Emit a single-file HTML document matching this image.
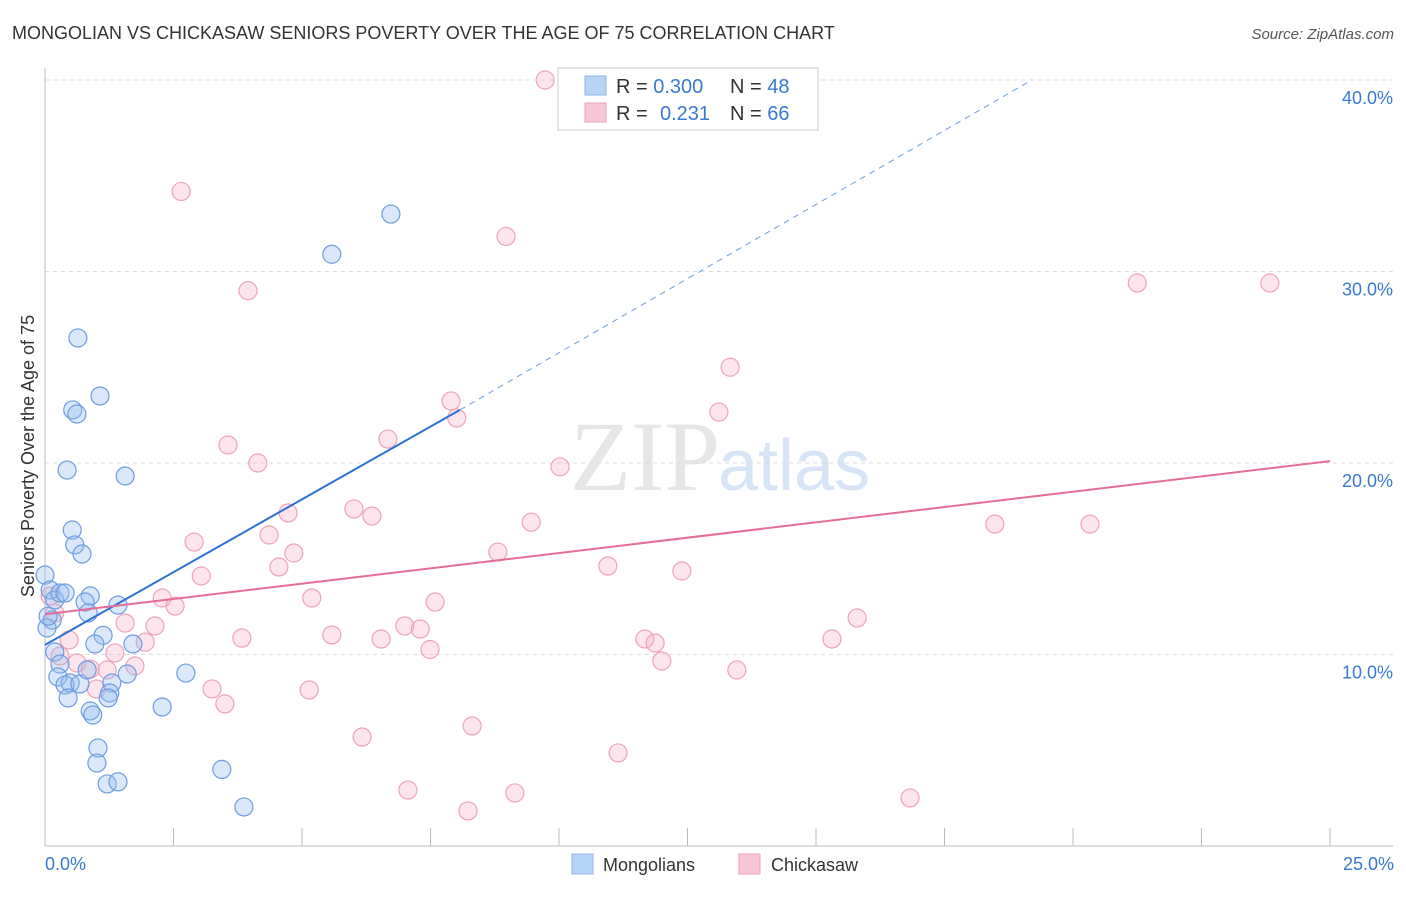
<!DOCTYPE html>
<html><head><meta charset="utf-8"><style>
body{margin:0;background:#fff;font-family:"Liberation Sans",sans-serif;}
</style></head><body>
<svg id="chart" width="1406" height="892" xmlns="http://www.w3.org/2000/svg">
<text x="12" y="39" font-size="18" fill="#333">MONGOLIAN VS CHICKASAW SENIORS POVERTY OVER THE AGE OF 75 CORRELATION CHART</text>
<text x="1394" y="39" font-size="15" fill="#555" font-style="italic" text-anchor="end">Source: ZipAtlas.com</text>
<text x="720" y="490" font-size="100" fill="#e6e6e6" text-anchor="end" font-family="Liberation Serif">ZIP</text>
<text x="718" y="490" font-size="72" fill="#d7e4f5">atlas</text>
<text transform="translate(34,456) rotate(-90)" font-size="18" fill="#333" text-anchor="middle">Seniors Poverty Over the Age of 75</text>
<g id="grid"></g><g id="pts"></g><g id="lines"></g>
<rect x="558" y="68" width="260" height="62" fill="#fff" stroke="#ccc"/>
<rect x="585" y="76" width="21" height="19" fill="#b7d3f5" stroke="#8fb5e8"/>
<rect x="585" y="103" width="21" height="19" fill="#f9c6d5" stroke="#eea3ba"/>
<text x="616" y="93" font-size="20" fill="#333">R = <tspan fill="#3a78d4">0.300</tspan><tspan x="730">N = </tspan><tspan fill="#3a78d4">48</tspan></text>
<text x="616" y="120" font-size="20" fill="#333">R = <tspan x="660" fill="#3a78d4">0.231</tspan><tspan x="730">N = </tspan><tspan fill="#3a78d4">66</tspan></text>
<text x="45" y="870" font-size="18" fill="#3a78d4">0.0%</text>
<text x="1394" y="870" font-size="18" fill="#3a78d4" text-anchor="end">25.0%</text>
<rect x="572" y="854" width="21" height="20" fill="#b7d3f5" stroke="#8fb5e8"/>
<text x="603" y="871" font-size="18" fill="#333">Mongolians</text>
<rect x="739" y="854" width="21" height="20" fill="#f9c6d5" stroke="#eea3ba"/>
<text x="771" y="871" font-size="18" fill="#333">Chickasaw</text>
</svg>
<script>
const yTicks=[10,20,30,40];
const xTicks=[0,2.5,5,7.5,10,12.5,15,17.5,20,22.5,25];
const blueX=[0,0.1,0.14,0.04,0.19,0.29,0.39,0.64,1.07,0.54,0.62,0.43,1.56,0.53,0.58,0.72,0.88,0.78,0.84,1.42,1.13,0.97,1.71,0.19,0.29,0.25,0.49,0.39,0.68,0.82,1.3,1.6,2.74,1.26,1.23,0.45,0.88,0.93,2.28,1.03,1.01,3.44,1.21,1.42,3.87,5.58,6.73,0.06];
const blueY=[14.15,13.37,11.8,11.39,12.85,13.21,13.21,26.53,23.5,22.77,22.56,19.63,19.32,16.5,15.72,15.25,13.06,12.74,12.17,12.58,11.0,10.55,10.55,10.13,9.5,8.83,8.51,8.41,8.46,9.19,8.51,8.98,9.03,7.99,7.73,7.73,7.05,6.84,7.26,5.12,4.33,4.0,3.24,3.35,2.04,30.9,33.0,12.0];
const pinkX=[9.73,2.65,8.97,3.95,21.25,23.83,13.33,13.11,7.9,8.01,6.67,3.56,4.14,10.02,6.01,6.36,4.73,9.46,18.48,20.33,4.36,2.9,4.84,8.81,10.95,12.39,4.55,3.04,2.28,2.53,5.19,7.59,1.56,2.14,7.0,7.3,5.58,3.83,6.54,1.95,0.47,7.49,11.67,11.87,15.31,15.8,1.36,0.29,0.62,0.88,1.21,1.75,12.0,13.46,3.25,1.0,3.5,5.14,8.31,6.17,11.15,7.06,9.14,8.23,16.83,0.19,0.1];
const pinkY=[40.0,34.18,31.83,29.0,29.4,29.4,25.0,22.66,23.24,22.35,21.25,20.94,20.0,19.8,17.6,17.23,17.39,16.91,16.81,16.81,16.24,15.87,15.3,15.35,14.62,14.36,14.57,14.1,12.95,12.53,12.95,12.74,11.64,11.49,11.49,11.33,11.02,10.86,10.81,10.65,10.76,10.26,10.81,10.6,10.81,11.91,10.08,9.92,9.56,9.24,9.19,9.4,9.66,9.19,8.2,8.2,7.42,8.15,6.27,5.69,4.86,2.92,2.77,1.83,2.51,12.17,13.05];
const blueLine=[0,10.5,8.07,22.77,19.2,40];
const pinkLine=[0,12.1,25,20.1];
const X=v=>45+v*51.4, Y=v=>846-v*19.15;
const ns="http://www.w3.org/2000/svg";
function mk(p,t,a){const e=document.createElementNS(ns,t);for(const k in a)e.setAttribute(k,a[k]);p.appendChild(e);return e;}
const g=document.getElementById('grid');
yTicks.forEach(t=>{
 const l=mk(g,'line',{x1:45,x2:1393,y1:Y(t),y2:Y(t),stroke:'#ddd','stroke-dasharray':'4,4'});
 
 
 const tx=mk(g,'text',{x:1393,y:Y(t)+24,'font-size':18,fill:'#3a78d4','text-anchor':'end'});tx.textContent=t.toFixed(1)+'%';
 
 
});
const ax=mk(g,'line',{x1:45,x2:1393,y1:846,y2:846,stroke:'#bbb'});


const ay=mk(g,'line',{x1:45,x2:45,y1:68,y2:846,stroke:'#bbb'});


xTicks.forEach(t=>{const l=mk(g,'line',{x1:X(t),x2:X(t),y1:828,y2:846,stroke:'#bbb'});
 
 });
const p=document.getElementById('pts');
pinkX.forEach((x,i)=>{const c=mk(p,'circle',{cx:X(x),cy:Y(pinkY[i]),r:9,fill:'rgba(246,170,195,0.3)',stroke:'#eea3ba','stroke-width':1.2});
 
 });
blueX.forEach((x,i)=>{const c=mk(p,'circle',{cx:X(x),cy:Y(blueY[i]),r:9,fill:'rgba(150,190,240,0.35)',stroke:'#6d9de0','stroke-width':1.2});
 
 });
const L=document.getElementById('lines');
const b1=mk(L,'line',{x1:X(blueLine[0]),y1:Y(blueLine[1]),x2:X(blueLine[2]),y2:Y(blueLine[3]),stroke:'#2a70d6','stroke-width':2});


const b2=mk(L,'line',{x1:X(blueLine[2]),y1:Y(blueLine[3]),x2:X(blueLine[4]),y2:Y(blueLine[5]),stroke:'#6d9de0','stroke-width':1,'stroke-dasharray':'6,5'});


const p1=mk(L,'line',{x1:X(pinkLine[0]),y1:Y(pinkLine[1]),x2:X(pinkLine[2]),y2:Y(pinkLine[3]),stroke:'#e56b9b','stroke-width':2});


</script>
</body></html>
